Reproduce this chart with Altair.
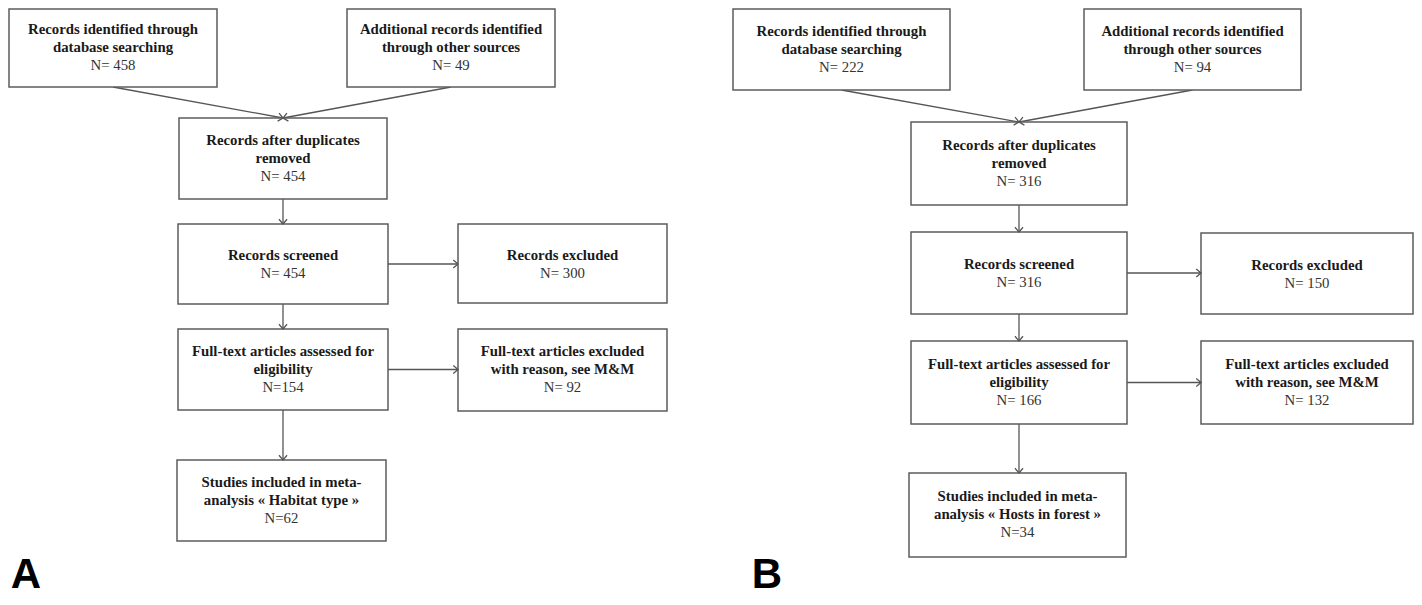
import math
import altair as alt
import pandas as pd

# ---------------- data ----------------
panel_letters = ["A", "B"]

box_titles_common = [
    ["Records identified through", "database searching"],
    ["Additional records identified", "through other sources"],
    ["Records after duplicates", "removed"],
    ["Records screened"],
    ["Records excluded"],
    ["Full-text articles assessed for", "eligibility"],
    ["Full-text articles excluded", "with reason, see M&M"],
    ["Studies included in meta-"],
]
final_box_second_line = {
    "A": "analysis « Habitat type »",
    "B": "analysis « Hosts in forest »",
}
counts_A = ["N= 458", "N= 49", "N= 454", "N= 454", "N= 300", "N=154", "N= 92", "N=62"]
counts_B = ["N= 222", "N= 94", "N= 316", "N= 316", "N= 150", "N= 166", "N= 132", "N=34"]
counts = {"A": counts_A, "B": counts_B}

# flow connections between boxes (from index, to index, kind)
edges = [
    (0, 2, "diag"),
    (1, 2, "diag"),
    (2, 3, "down"),
    (3, 4, "right"),
    (3, 5, "down"),
    (5, 6, "right"),
    (5, 7, "down"),
]

# ---------------- layout (page pixel geometry of each box) ----------------
layout = {
    "A": [
        (9, 217, 9, 87),
        (347, 555, 9, 87),
        (179, 387, 118, 199),
        (178, 388, 224, 304),
        (458, 667, 224, 303),
        (178, 388, 329, 410),
        (458, 667, 329, 411),
        (177, 386, 460, 541),
    ],
    "B": [
        (733, 950, 9, 90),
        (1084, 1301, 9, 90),
        (911, 1127, 122, 205),
        (911, 1127, 232, 314),
        (1201, 1413, 233, 314),
        (911, 1127, 341, 424),
        (1201, 1413, 341, 424),
        (909, 1126, 473, 557),
    ],
}
letter_pos = {"A": (26, 597), "B": (767, 597)}
LINE_H = 18

boxes, lines, rules, heads, letters = [], [], [], [], []
for p in panel_letters:
    geo = layout[p]
    for i, (x0, x1, y0, y1) in enumerate(geo):
        boxes.append(dict(x0=x0, x1=x1, y0=y0, y1=y1))
        title = list(box_titles_common[i])
        if i == 7:
            title.append(final_box_second_line[p])
        all_lines = title + [counts[p][i]]
        n = len(all_lines)
        cx = (x0 + x1) / 2
        cy = (y0 + y1) / 2 + (1 if n == 2 else 0)
        for k, t in enumerate(all_lines):
            lines.append(dict(x=cx, y=cy + (k - (n - 1) / 2) * LINE_H, text=t,
                              kind="n" if k == n - 1 else "title"))
    for a, b, kind in edges:
        ax0, ax1, ay0, ay1 = geo[a]
        bx0, bx1, by0, by1 = geo[b]
        if kind == "right":
            sx, sy = ax1, (ay0 + ay1) / 2
            ex, ey = bx0, sy
        else:
            sx, sy = (ax0 + ax1) / 2, ay1
            ex, ey = (bx0 + bx1) / 2, by0
            if kind == "down":
                ex = sx
        rules.append(dict(x=sx, y=sy, x2=ex, y2=ey))
        ang = math.degrees(math.atan2(ey - sy, ex - sx)) % 360
        heads.append(dict(x=ex, y=ey, angle=ang))
    lx, ly = letter_pos[p]
    letters.append(dict(x=lx, y=ly, text=p))

W, H = 1406, 589
xs = alt.Scale(domain=[8, 8 + W], nice=False, zero=False)
ys = alt.Scale(domain=[8, 8 + H], nice=False, zero=False, reverse=True)

box_layer = alt.Chart(pd.DataFrame(boxes)).mark_rect(
    fill="white", stroke="#5c5c5c", strokeWidth=1.5
).encode(
    x=alt.X("x0:Q", scale=xs, axis=None), x2="x1:Q",
    y=alt.Y("y0:Q", scale=ys, axis=None), y2="y1:Q",
)

rule_layer = alt.Chart(pd.DataFrame(rules)).mark_rule(
    stroke="#555555", strokeWidth=1.3
).encode(
    x=alt.X("x:Q", scale=xs, axis=None), x2="x2:Q",
    y=alt.Y("y:Q", scale=ys, axis=None), y2="y2:Q",
)

head_layer = alt.Chart(pd.DataFrame(heads)).mark_point(
    shape="M -1 -0.85 L 0 0 L -1 0.85", filled=False, stroke="#555555",
    strokeWidth=1.3, size=90, opacity=1
).encode(
    x=alt.X("x:Q", scale=xs, axis=None),
    y=alt.Y("y:Q", scale=ys, axis=None),
    angle=alt.Angle("angle:Q", scale=None),
)

ldf = pd.DataFrame(lines)
title_layer = alt.Chart(ldf[ldf.kind == "title"]).mark_text(
    font="Liberation Serif", fontSize=14.8, fontWeight="bold", color="#1a1a1a",
    align="center", baseline="middle"
).encode(
    x=alt.X("x:Q", scale=xs, axis=None),
    y=alt.Y("y:Q", scale=ys, axis=None),
    text="text:N",
)
n_layer = alt.Chart(ldf[ldf.kind == "n"]).mark_text(
    font="Liberation Serif", fontSize=14.8, fontWeight="normal", color="#333333",
    align="center", baseline="middle"
).encode(
    x=alt.X("x:Q", scale=xs, axis=None),
    y=alt.Y("y:Q", scale=ys, axis=None),
    text="text:N",
)

letter_layer = alt.Chart(pd.DataFrame(letters)).mark_text(
    font="Liberation Sans", fontSize=42, fontWeight="bold", color="black",
    align="center", baseline="bottom"
).encode(
    x=alt.X("x:Q", scale=xs, axis=None),
    y=alt.Y("y:Q", scale=ys, axis=None),
    text="text:N",
)

chart = alt.layer(
    rule_layer, box_layer, head_layer, title_layer, n_layer, letter_layer
).properties(
    width=W, height=H, padding=0, autosize=alt.AutoSizeParams(type="none")
).configure_view(strokeWidth=0)

chart.save("out.html", embed_options={"renderer": "svg", "actions": False})
